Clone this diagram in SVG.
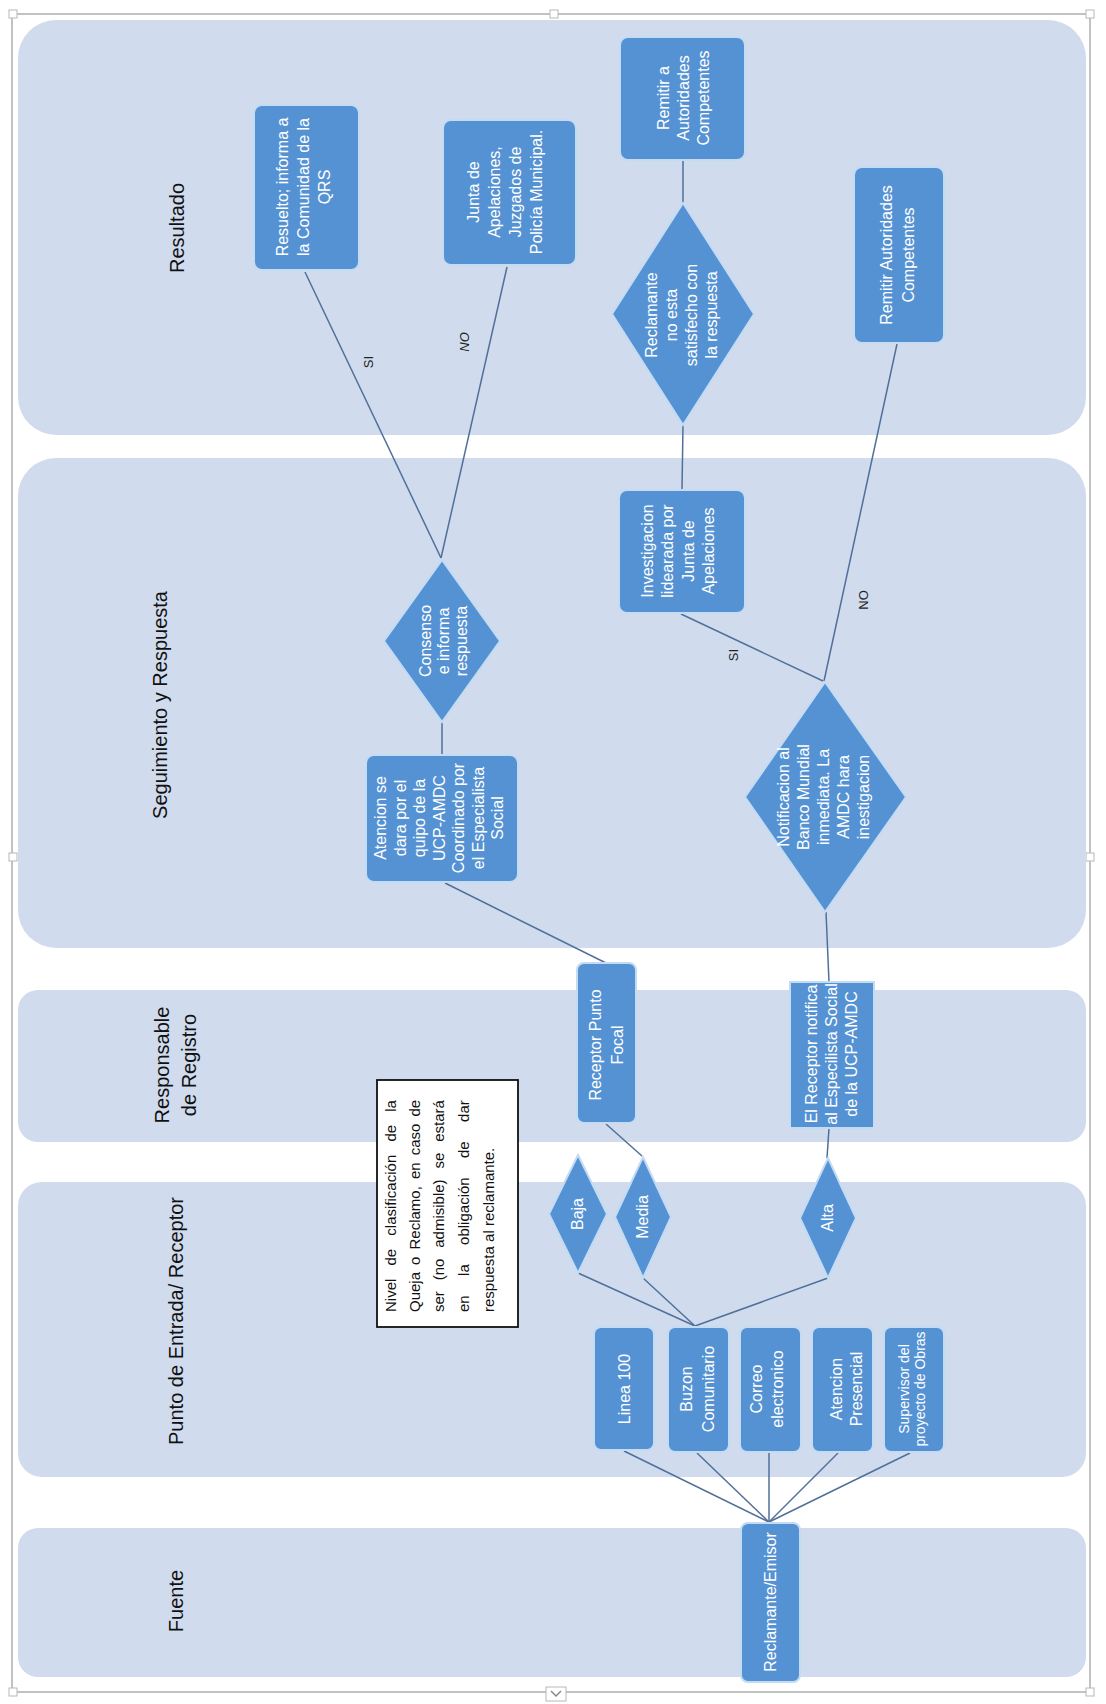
<svg xmlns="http://www.w3.org/2000/svg" width="1106" height="1704" viewBox="0 0 1106 1704">
<style>
.lane{fill:#d0dcee;}
.lt{font-family:"Liberation Sans",Arial,sans-serif;font-size:20px;fill:#111;text-anchor:middle;}
.box{fill:#5592d4;stroke:#c3dbf3;stroke-width:2;}
.nt{font-family:"Liberation Sans",Arial,sans-serif;font-size:16px;fill:#ffffff;text-anchor:middle;}
.sm{font-size:14px;}
.cn{stroke:#50709a;stroke-width:1.5;fill:none;}
.lbl{font-family:"Liberation Sans",Arial,sans-serif;font-size:13px;fill:#222;text-anchor:middle;}
.note{font-family:"Liberation Sans",Arial,sans-serif;font-size:15px;fill:#111;}
.hd{fill:#fff;stroke:#b8b8b8;stroke-width:1;}
</style>
<rect width="1106" height="1704" fill="#ffffff"/>
<g id="frame">
<rect x="12" y="14" width="1078" height="1678" fill="none" stroke="#c2c2c2" stroke-width="2"/>
<rect class="hd" x="9" y="10" width="8" height="8"/>
<rect class="hd" x="550" y="10" width="8" height="8"/>
<rect class="hd" x="1086" y="10" width="8" height="8"/>
<rect class="hd" x="9" y="853" width="8" height="8"/>
<rect class="hd" x="1086" y="853" width="8" height="8"/>
<rect class="hd" x="9" y="1688" width="8" height="8"/>
<rect class="hd" x="1086" y="1688" width="8" height="8"/>
<rect class="hd" x="546" y="1687" width="20" height="14"/>
<polyline points="551,1691 556,1696 561,1691" fill="none" stroke="#888" stroke-width="1.5"/>
</g>
<g id="lanes">
<g id="lane-resultado"><rect class="lane" x="18" y="20" width="1068" height="415" rx="38"/>
<text class="lt" transform="translate(177,228) rotate(-90)" dy="7">Resultado</text></g>
<g id="lane-seguimiento"><rect class="lane" x="18" y="458" width="1068" height="490" rx="38"/>
<text class="lt" transform="translate(160,705) rotate(-90)" dy="7">Seguimiento y Respuesta</text></g>
<g id="lane-responsable"><rect class="lane" x="18" y="990" width="1068" height="152" rx="20"/>
<text class="lt" transform="translate(175,1065) rotate(-90)"><tspan x="0" dy="-6.5">Responsable</tspan><tspan x="0" dy="27">de Registro</tspan></text></g>
<g id="lane-punto"><rect class="lane" x="18" y="1182" width="1068" height="295" rx="24"/>
<text class="lt" transform="translate(176,1321) rotate(-90)" dy="7">Punto de Entrada/ Receptor</text></g>
<g id="lane-fuente"><rect class="lane" x="18" y="1528" width="1068" height="149" rx="20"/>
<text class="lt" transform="translate(176,1601) rotate(-90)" dy="7">Fuente</text></g>
</g>
<g id="connectors">
<line class="cn" x1="305" y1="272" x2="441" y2="558"/>
<line class="cn" x1="507" y1="267" x2="441" y2="558"/>
<line class="cn" x1="442" y1="722" x2="442" y2="755"/>
<line class="cn" x1="445" y1="883" x2="606" y2="963"/>
<line class="cn" x1="606" y1="1124" x2="642" y2="1156"/>
<line class="cn" x1="683" y1="161" x2="683" y2="203"/>
<line class="cn" x1="683" y1="425" x2="682" y2="490"/>
<line class="cn" x1="681" y1="614" x2="823" y2="681"/>
<line class="cn" x1="897" y1="344" x2="824" y2="681"/>
<line class="cn" x1="826" y1="912" x2="829" y2="982"/>
<line class="cn" x1="829" y1="1128" x2="827" y2="1158"/>
<line class="cn" x1="578" y1="1273" x2="695" y2="1326"/>
<line class="cn" x1="643" y1="1278" x2="695" y2="1326"/>
<line class="cn" x1="828" y1="1278" x2="695" y2="1326"/>
<line class="cn" x1="769" y1="1522" x2="624" y2="1451"/>
<line class="cn" x1="769" y1="1522" x2="697" y2="1453"/>
<line class="cn" x1="769" y1="1522" x2="769" y2="1453"/>
<line class="cn" x1="769" y1="1522" x2="838" y2="1453"/>
<line class="cn" x1="769" y1="1522" x2="910" y2="1453"/>
<text class="lbl" transform="translate(368,362) rotate(-90)" dy="4.5">SI</text>
<text class="lbl" transform="translate(464,342) rotate(-90)" dy="4.5" font-style="italic">NO</text>
<text class="lbl" transform="translate(733,655) rotate(-90)" dy="4.5">SI</text>
<text class="lbl" transform="translate(863,600) rotate(-90)" dy="4.5">NO</text>
</g>
<g id="n-resuelto"><rect class="box" x="254" y="105" width="105" height="165" rx="8"/>
<text class="nt" transform="translate(303,187) rotate(-90)"><tspan x="0" dy="-15.4">Resuelto; informa a</tspan><tspan x="0" dy="21">la Comunidad de la</tspan><tspan x="0" dy="21">QRS</tspan></text></g>
<g id="n-junta"><rect class="box" x="443" y="120" width="133" height="145" rx="8"/>
<text class="nt" transform="translate(505,192) rotate(-90)"><tspan x="0" dy="-25.9">Junta de</tspan><tspan x="0" dy="21">Apelaciones,</tspan><tspan x="0" dy="21">Juzgados de</tspan><tspan x="0" dy="21">Policía Municipal.</tspan></text></g>
<g id="n-remitir-a"><rect class="box" x="620" y="37" width="125" height="123" rx="8"/>
<text class="nt" transform="translate(683,98) rotate(-90)"><tspan x="0" dy="-14.4">Remitir a</tspan><tspan x="0" dy="20">Autoridades</tspan><tspan x="0" dy="20">Competentes</tspan></text></g>
<g id="n-reclamante-no"><polygon class="box" points="683,203 754,314 683,425 612,314"/>
<text class="nt" transform="translate(681,315) rotate(-90)"><tspan x="0" dy="-24.4">Reclamante</tspan><tspan x="0" dy="20">no  esta</tspan><tspan x="0" dy="20">satisfecho con</tspan><tspan x="0" dy="20">la respuesta</tspan></text></g>
<g id="n-remitir-aut"><rect class="box" x="854" y="167" width="90" height="176" rx="8"/>
<text class="nt" transform="translate(897,255) rotate(-90)"><tspan x="0" dy="-5.4">Remitir Autoridades</tspan><tspan x="0" dy="22">Competentes</tspan></text></g>
<g id="n-consenso"><polygon class="box" points="442,560 500,641 442,722 384,641"/>
<text class="nt" transform="translate(443,641) rotate(-90)"><tspan x="0" dy="-12.4">Consenso</tspan><tspan x="0" dy="18">e informa</tspan><tspan x="0" dy="18">respuesta</tspan></text></g>
<g id="n-atencion"><rect class="box" x="366" y="755" width="152" height="127" rx="8"/>
<text class="nt" transform="translate(439,818) rotate(-90)"><tspan x="0" dy="-52.9">Atencion se</tspan><tspan x="0" dy="19.5">dara por el</tspan><tspan x="0" dy="19.5">quipo de la</tspan><tspan x="0" dy="19.5">UCP-AMDC</tspan><tspan x="0" dy="19.5">Coordinado por</tspan><tspan x="0" dy="19.5">el Especialista</tspan><tspan x="0" dy="19.5">Social</tspan></text></g>
<g id="n-investigacion"><rect class="box" x="619" y="490" width="126" height="123" rx="8"/>
<text class="nt" transform="translate(678,551) rotate(-90)"><tspan x="0" dy="-25.15">Investigacion</tspan><tspan x="0" dy="20.5">lidearada por</tspan><tspan x="0" dy="20.5">Junta de</tspan><tspan x="0" dy="20.5">Apelaciones</tspan></text></g>
<g id="n-notificacion"><polygon class="box" points="825,682 906,797 825,912 745,797"/>
<text class="nt" transform="translate(823,797) rotate(-90)"><tspan x="0" dy="-34.4">Notificacion al</tspan><tspan x="0" dy="20">Banco Mundial</tspan><tspan x="0" dy="20">inmediata. La</tspan><tspan x="0" dy="20">AMDC hara</tspan><tspan x="0" dy="20">inestigacion</tspan></text></g>
<g id="n-receptor-pf"><rect class="box" x="577" y="963" width="59" height="160" rx="7"/>
<text class="nt" transform="translate(606,1045) rotate(-90)"><tspan x="0" dy="-5.4">Receptor Punto</tspan><tspan x="0" dy="22">Focal</tspan></text></g>
<g id="n-el-receptor"><rect class="box" x="790" y="982" width="84" height="146"/>
<text class="nt" transform="translate(831,1054) rotate(-90)"><tspan x="0" dy="-14.4">El Receptor notifica</tspan><tspan x="0" dy="20">al Especilista Social</tspan><tspan x="0" dy="20">de la UCP-AMDC</tspan></text></g>
<g id="n-baja"><polygon class="box" points="578,1155 607,1214 578,1273 549,1214"/>
<text class="nt" transform="translate(578,1214) rotate(-90)" dy="5.3" font-size="15">Baja</text></g>
<g id="n-media"><polygon class="box" points="643,1157 671,1217 643,1278 615,1217"/>
<text class="nt" transform="translate(643,1217) rotate(-90)" dy="5.3" font-size="15">Media</text></g>
<g id="n-alta"><polygon class="box" points="828,1158 856,1218 828,1278 800,1218"/>
<text class="nt" transform="translate(828,1218) rotate(-90)" dy="5.3" font-size="15">Alta</text></g>
<g id="n-nota"><rect x="377" y="1080" width="141" height="247" fill="#ffffff" stroke="#111" stroke-width="1.8"/>
<text class="note" transform="translate(396,1312) rotate(-90)" word-spacing="9">Nivel de clasificación de la</text>
<text class="note" transform="translate(420,1312) rotate(-90)" word-spacing="2.9">Queja o Reclamo, en caso de</text>
<text class="note" transform="translate(444,1312) rotate(-90)" word-spacing="6.7">ser (no admisible) se estará</text>
<text class="note" transform="translate(469,1312) rotate(-90)" word-spacing="15.2">en la obligación de dar</text>
<text class="note" transform="translate(494,1312) rotate(-90)">respuesta al reclamante.</text></g>
<g id="n-linea"><rect class="box" x="594" y="1327" width="60" height="123" rx="7"/>
<text class="nt" transform="translate(624,1389) rotate(-90)" dy="5.6">Linea 100</text></g>
<g id="n-buzon"><rect class="box" x="668" y="1327" width="61" height="125" rx="7"/>
<text class="nt" transform="translate(697,1389) rotate(-90)"><tspan x="0" dy="-5.4">Buzon</tspan><tspan x="0" dy="22">Comunitario</tspan></text></g>
<g id="n-correo"><rect class="box" x="740" y="1327" width="61" height="125" rx="7"/>
<text class="nt" transform="translate(767,1389) rotate(-90)"><tspan x="0" dy="-5.4">Correo</tspan><tspan x="0" dy="21">electronico</tspan></text></g>
<g id="n-atencion-p"><rect class="box" x="812" y="1327" width="61" height="125" rx="7"/>
<text class="nt" transform="translate(846,1389) rotate(-90)"><tspan x="0" dy="-4.4">Atencion</tspan><tspan x="0" dy="20">Presencial</tspan></text></g>
<g id="n-supervisor"><rect class="box" x="884" y="1327" width="60" height="125" rx="7"/>
<text class="nt sm" transform="translate(912,1389) rotate(-90)"><tspan x="0" dy="-3.1">Supervisor del</tspan><tspan x="0" dy="16">proyecto de Obras</tspan></text></g>
<g id="n-reclamante"><rect class="box" x="741" y="1523" width="59" height="159" rx="7"/>
<text class="nt" transform="translate(770,1602) rotate(-90)" dy="5.6">Reclamante/Emisor</text></g>
</svg>
